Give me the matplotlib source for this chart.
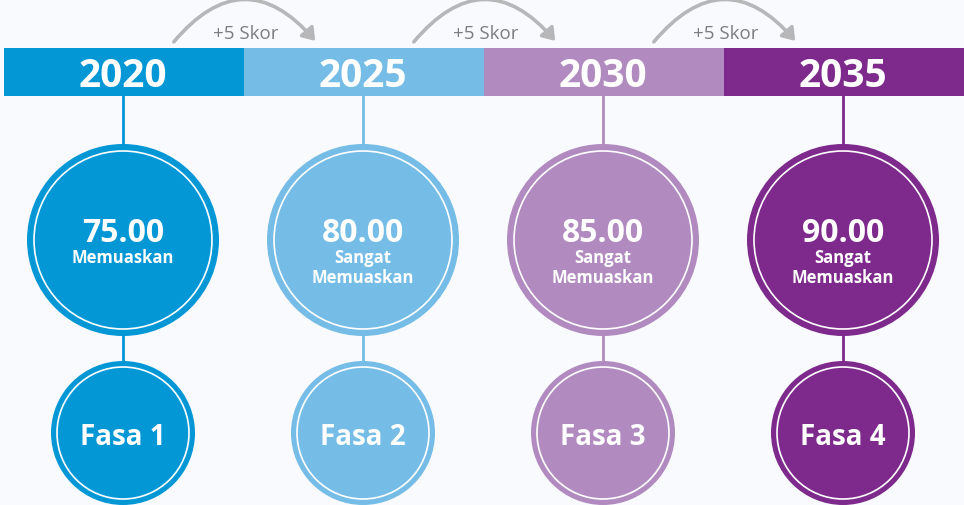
import matplotlib
matplotlib.use("Agg")
import matplotlib.pyplot as plt
from matplotlib.patches import Circle, FancyArrowPatch, Rectangle

years = ["2020", "2025", "2030", "2035"]
scores = ["75.00", "80.00", "85.00", "90.00"]
ratings = ["Memuaskan", "Sangat\nMemuaskan", "Sangat\nMemuaskan", "Sangat\nMemuaskan"]
phases = ["Fasa 1", "Fasa 2", "Fasa 3", "Fasa 4"]
step_label = "+5 Skor"
colors = ["#0497d6", "#75bde7", "#b18bc0", "#7e2a8c"]

FONT = ["Open Sans", "DejaVu Sans"]

fig = plt.figure(figsize=(9.64, 5.06), dpi=100)
fig.patch.set_facecolor("#f9fafd")
ax = fig.add_axes([0, 0, 1, 1])
ax.set_xlim(0, 964)
ax.set_ylim(506, 0)
ax.axis("off")

seg_w = 240
x0 = 4
bar_top, bar_h = 49, 48
big_y, big_r = 241, 96
small_y, small_r = 434, 72

for i, (year, score, rating, phase, c) in enumerate(zip(years, scores, ratings, phases, colors)):
    left = x0 + i * seg_w
    cx = left + seg_w / 2 - 1
    ax.add_patch(Rectangle((left, bar_top), seg_w, bar_h, facecolor=c, edgecolor="none"))
    ax.text(cx, bar_top + bar_h / 2 + 3, year, ha="center", va="center", color="white",
            fontsize=28, fontweight="bold", family=FONT)

    # connectors
    ax.plot([cx, cx], [bar_top + bar_h, big_y - big_r], color=c, lw=2)
    ax.plot([cx, cx], [big_y + big_r, small_y - small_r], color=c, lw=2)

    # big circle
    ax.add_patch(Circle((cx, big_y), big_r, facecolor=c, edgecolor="none"))
    ax.add_patch(Circle((cx, big_y), big_r - 7, facecolor="none", edgecolor="white", lw=1.2))
    ax.text(cx, big_y - 8, score, ha="center", va="center", color="white",
            fontsize=23, fontweight="bold", family=FONT)
    ax.text(cx, big_y + 8, rating, ha="center", va="top", color="white",
            fontsize=12, fontweight="bold", family=FONT, linespacing=1.15)

    # small circle
    ax.add_patch(Circle((cx, small_y), small_r, facecolor=c, edgecolor="none"))
    ax.add_patch(Circle((cx, small_y), small_r - 6, facecolor="none", edgecolor="white", lw=1.2))
    ax.text(cx, small_y + 4, phase, ha="center", va="center", color="white",
            fontsize=20, fontweight="bold", family=FONT)

# step arcs between years
for i in range(len(years) - 1):
    sx = x0 + i * seg_w + 168
    ex = sx + 145
    ax.add_patch(FancyArrowPatch((sx, 45), (ex, 44), connectionstyle="arc3,rad=-0.6",
                                 arrowstyle="-|>,head_length=0.5,head_width=0.35",
                                 mutation_scale=14, lw=2.6, color="#b7b7b9"))
    ax.text((sx + ex) / 2 + 1, 34, step_label, ha="center", va="center", color="#7d7d80",
            fontsize=13.5, family=FONT)

fig.savefig("out.png", dpi=100, facecolor=fig.get_facecolor())
